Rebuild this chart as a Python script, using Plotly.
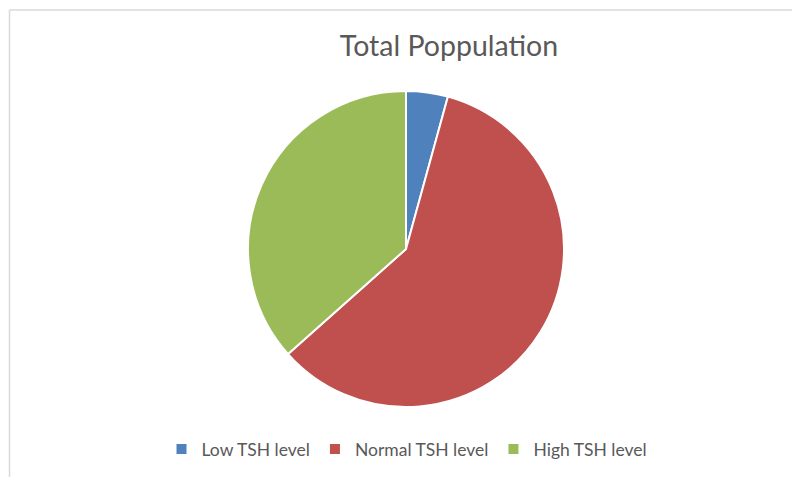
import plotly.graph_objects as go

categories = ["Low TSH level", "Normal TSH level", "High TSH level"]
values = [7, 97, 60]
colors = ["#4F81BD", "#C0504D", "#9BBB59"]

W, H = 792, 477
cx, cy, r = 406, 249, 158

fig = go.Figure(go.Pie(
    labels=categories,
    values=values,
    sort=False,
    direction="clockwise",
    rotation=0,
    textinfo="none",
    hoverinfo="label+value+percent",
    marker=dict(colors=colors, line=dict(color="white", width=2)),
    domain=dict(x=[(cx - r) / W, (cx + r) / W], y=[(H - cy - r) / H, (H - cy + r) / H]),
))

fig.update_layout(
    width=W, height=H,
    margin=dict(l=0, r=0, t=0, b=0),
    paper_bgcolor="white",
    title=dict(text="Total Poppulation", x=449 / W, xanchor="center",
               y=1 - 46 / H, yanchor="middle",
               font=dict(family="Lato, Open Sans, sans-serif", size=28.5, color="#595959")),
    legend=dict(orientation="h", x=407 / W, xanchor="center", y=1 - 449 / H, yanchor="middle",
                font=dict(family="Lato, Open Sans, sans-serif", size=17.5, color="#595959"),
                itemwidth=30, tracegroupgap=0),
    shapes=[
        dict(type="line", xref="paper", yref="paper", x0=9.5 / W, x1=1, y0=1 - 10 / H, y1=1 - 10 / H,
             line=dict(color="#D9D9D9", width=1.5)),
        dict(type="line", xref="paper", yref="paper", x0=9.5 / W, x1=9.5 / W, y0=0, y1=1 - 10 / H,
             line=dict(color="#D9D9D9", width=1.5)),
    ],
)

fig.write_html("out.html", config={"displayModeBar": False},
               post_script="document.body.style.margin='0';document.body.style.overflow='hidden';")
